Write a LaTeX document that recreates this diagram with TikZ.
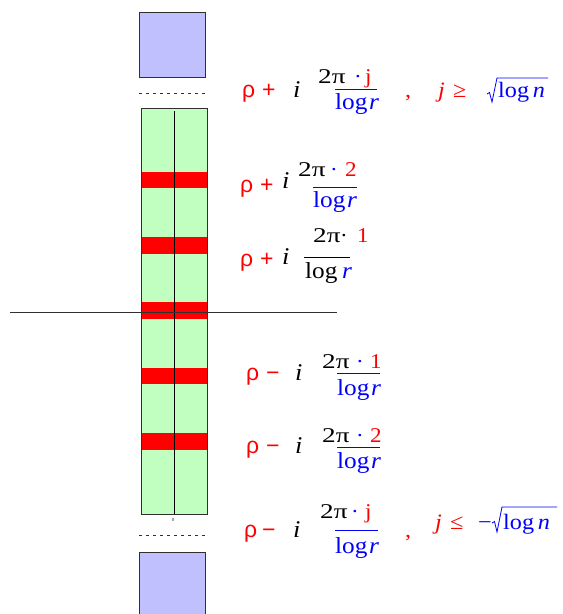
\documentclass[tikz,border=0pt]{standalone}
\usepackage{fontspec}
\setmainfont{Liberation Serif}[FakeStretch=1.1]
\newfontfamily\sansf{Liberation Sans}
\definecolor{lav}{HTML}{C0C0FF}
\definecolor{lgreen}{HTML}{C0FFC0}
\definecolor{edge}{HTML}{303030}
\newcommand{\twopi}{\scalebox{1.18}[1]{2π}}
\begin{document}
\begin{tikzpicture}[x=1pt,y=-1pt,
  txt/.style={inner sep=0pt,anchor=base west,font=\fontsize{22}{26}\selectfont},
  num/.style={txt,font=\fontsize{21}{25}\selectfont},
  den/.style={txt,font=\fontsize{23}{27}\selectfont},
  imag/.style={txt,font=\fontsize{24}{28}\selectfont\itshape},
  dotc/.style={inner sep=0pt,anchor=base,font=\fontsize{21}{25}\selectfont},
  rho/.style={txt,text=red,font=\fontsize{23}{27}\selectfont\sansf},
  fbar/.style={line width=0.9pt},
  band/.style={fill=red,draw=none},
  gap/.style={dash pattern=on 3pt off 4pt,draw=edge,line width=0.6pt},
  rad/.style={draw=blue,line width=0.8pt,line join=miter}]
\useasboundingbox (0,0) rectangle (563,614);
% boxes
\fill[lav,draw=edge,line width=0.8pt] (139,12) rectangle (205,77);
\fill[lav,draw=edge,line width=0.8pt] (139,552) rectangle (205,620);
\draw[gap] (139,93.5) -- (205,93.5);
\draw[gap] (139,535) -- (205,535);
\fill[lgreen,draw=edge,line width=0.8pt] (141,108) rectangle (207,514);
\foreach \c in {180,245.5,310.5,376,441.5}{
  \fill[band] (141,\c-8.2) rectangle (207,\c+8.2);
}
\draw[edge,line width=0.8pt] (141,108) rectangle (207,514);
\draw[black,line width=0.8pt] (174,111) -- (174,514);
\draw[edge,line width=0.7pt] (10,312) -- (337,312);
\fill[gray!70] (171.5,518) rectangle (173.5,520.5);
% label 1
\node[rho] (r1) at (242,97) {ρ};
\node[rho] (p1) at (262,97) {+};
\node[imag] (i1) at (293,97) {i};
\node[num] (n1) at (318,83) {\twopi};
\node[dotc,text=blue] (o1) at (358,83) {·};
\node[num,text=red] (k1) at (365,83) {j};
\draw[fbar,blue] (335,89) -- (377,89);
\node[den,text=blue] (d1) at (335,109) {log\hspace{1.5pt}\itshape r};
\node[txt,text=red] (c1) at (405,97) {,};
\node[txt,text=red] (j1) at (438,97) {\itshape j};
\node[txt,text=red] (g1) at (453,97) {≥};
\draw[rad] (487,94) -- (489.5,92.5) -- (492,102) -- (497,78) -- (548,78);
\node[txt,text=blue] (s1) at (498,97) {log\,\itshape n};
% label 2
\node[rho] (r2) at (240,192) {ρ};
\node[rho] (p2) at (260,192) {+};
\node[imag] (i2) at (282,188) {i};
\node[num] (n2) at (298,176) {\twopi};
\node[dotc,text=blue] (o2) at (334,176) {·};
\node[num,text=red] (k2) at (345,176) {2};
\draw[fbar,blue] (313,187) -- (357,187);
\node[den,text=blue] (d2) at (313,207) {log\hspace{1.5pt}\itshape r};
% label 3
\node[rho] (r3) at (240,266) {ρ};
\node[rho] (p3) at (260,266) {+};
\node[imag] (i3) at (282,264) {i};
\node[num] (n3) at (313,242) {\twopi};
\node[dotc] (o3) at (344,242) {·};
\node[num,text=red] (k3) at (357,242) {1};
\draw[fbar,black] (304,257) -- (350,257);
\node[den] (d3) at (305,278) {log};
\node[den,text=blue] (e3) at (342,278) {\itshape r};
% label 4
\node[rho] (r4) at (246,380) {ρ};
\node[rho] (p4) at (266,380) {−};
\node[imag] (i4) at (295,380) {i};
\node[num] (n4) at (322,368) {\twopi};
\node[dotc,text=blue] (o4) at (360,368) {·};
\node[num,text=red] (k4) at (370,368) {1};
\draw[fbar,blue] (337,373.5) -- (380,373.5);
\node[den,text=blue] (d4) at (337,395) {log\hspace{1.5pt}\itshape r};
% label 5
\node[rho] (r5) at (246,453) {ρ};
\node[rho] (p5) at (266,453) {−};
\node[imag] (i5) at (295,453) {i};
\node[num] (n5) at (322,442) {\twopi};
\node[dotc,text=blue] (o5) at (360,442) {·};
\node[num,text=red] (k5) at (370,442) {2};
\draw[fbar,blue] (337,447.5) -- (380,447.5);
\node[den,text=blue] (d5) at (337,468) {log\hspace{1.5pt}\itshape r};
% label 6
\node[rho] (r6) at (244,537) {ρ};
\node[rho] (p6) at (262,537) {−};
\node[imag] (i6) at (293,537) {i};
\node[num] (n6) at (320,518) {\twopi};
\node[dotc,text=blue] (o6) at (355,518) {·};
\node[num,text=red] (k6) at (365,518) {j};
\draw[fbar,blue] (335,530) -- (378,530);
\node[den,text=blue] (d6) at (335,553) {log\hspace{1.5pt}\itshape r};
\node[txt,text=red] (c6) at (405,537) {,};
\node[txt,text=red] (j6) at (435,529) {\itshape j};
\node[txt,text=red] (g6) at (450,529) {≤};
\node[txt,text=blue] (m6) at (478,529) {−};
\draw[rad] (492,523) -- (494.5,521.5) -- (497,532) -- (502,507) -- (557,507);
\node[txt,text=blue] (s6) at (503,529) {log\,\itshape n};
\end{tikzpicture}
\end{document}
